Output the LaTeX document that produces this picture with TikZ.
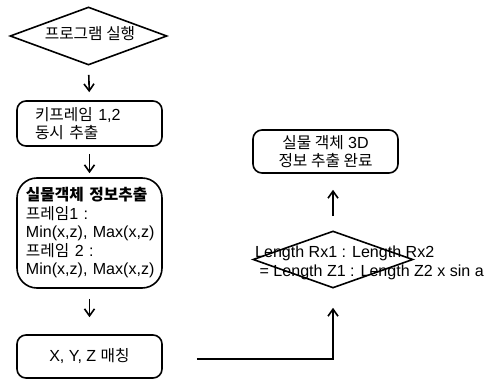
\documentclass[tikz,border=0pt]{standalone}
\usepackage{fontspec}
\setmainfont{Liberation Sans}[Scale=1.07]
\newfontfamily\kr{Noto Sans CJK KR}[Scale=1.05]
\usetikzlibrary{shapes.geometric,arrows.meta}
\begin{document}
\begin{tikzpicture}[x=1pt,y=-1pt,
  every node/.style={font=\fontsize{15pt}{18.5pt}\selectfont},
  box/.style={draw,line width=1.6pt,rounded corners=9pt,minimum width=145pt,inner ysep=0pt},
  dia/.style={draw,line width=1.6pt,shape=diamond,inner sep=0pt},
  lbl/.style={inner sep=0pt,align=center},
  arr/.style={line width=1.6pt,-{Straight Barb[length=7pt,width=10pt]}}]
\useasboundingbox (0,0) rectangle (488,380);
\node[dia,minimum width=157pt,minimum height=58pt] (d1) at (88.5,36) {};
\node[lbl] (t1) at (90,34) {\kr 프로그램 실행};
\node[box,minimum height=45pt,text width=109pt,inner xsep=18pt,align=left] (b1) at (89.5,123.5)
  {\mbox{{\kr 키프레임} 1,2}\\\mbox{\kr 동시 추출}};
\node[box,rounded corners=20pt,minimum height=110pt,text width=127pt,inner xsep=9pt,align=left] (b2) at (89.5,233)
  {\mbox{\kr\bfseries 실물객체 정보추출}\\\mbox{{\kr 프레임}1 :}\\\mbox{Min(x,z), Max(x,z)}\\\mbox{{\kr 프레임} 2 :}\\\mbox{Min(x,z), Max(x,z)}};
\node[box,minimum height=43pt,align=center] (b3) at (89.5,356.5) {X, Y, Z {\kr 매칭}};
\node[dia,minimum width=160pt,minimum height=57pt] (d2) at (333,259.5) {};
\node[anchor=west,align=left,inner sep=0pt] (t2) at (255,263)
  {Length Rx1 : Length Rx2\\\ = Length Z1 : Length Z2 x sin a};
\node[box,minimum height=43pt,align=center] (b4) at (325.5,151.5)
  {{\kr 실물 객체} 3D\\{\kr 정보 추출 완료}};
\draw[arr,shorten <=9pt,shorten >=8pt] (d1.south) -- (b1.north);
\draw[arr,shorten <=7pt,shorten >=4pt] (b1.south) -- (b2.north);
\draw[arr,shorten <=10pt,shorten >=17pt] (b2.south) -- (b3.north);
\draw[arr,shorten <=34pt,shorten >=19pt] ([yshift=-2.5pt]b3.east) -| (d2.south);
\draw[arr,shorten <=14pt,shorten >=16pt] (d2.north) -- (d2.north |- b4.south);
\end{tikzpicture}
\end{document}
